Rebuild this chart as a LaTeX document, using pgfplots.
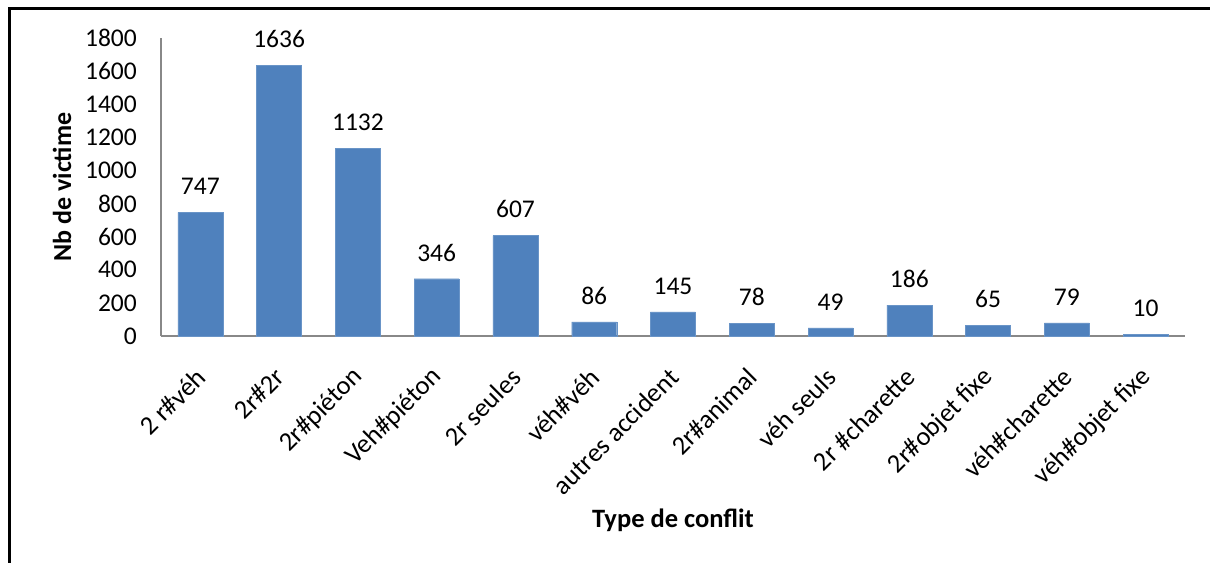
\documentclass[border=0pt]{standalone}
\usepackage{fontspec}
\setmainfont{Carlito}
\usepackage{pgfplots}
\pgfplotsset{compat=1.18}
\definecolor{barblue}{HTML}{4F81BD}
\definecolor{axisgray}{HTML}{888888}
\begin{document}
\begin{tikzpicture}
\useasboundingbox (-161bp,-227bp) rectangle (1049bp,336bp);
\draw[line width=3bp] (-151.5bp,-227bp) -- (-151.5bp,327.5bp) -- (1049bp,327.5bp);
\begin{axis}[
  at={(0,0)}, anchor=south west,
  scale only axis, width=1024bp, height=298bp,
  xmin=-0.5, xmax=12.5, ymin=0, ymax=1800,
  axis lines*=left,
  axis line style={axisgray, line width=1.3bp},
  ytick={0,200,...,1800},
  xtick=data,
  xticklabels={2 r\#véh, 2r\#2r, 2r\#piéton, Veh\#piéton, 2r seules, véh\#véh, autres accident, 2r\#animal, véh seuls, 2r \#charette, 2r\#objet fixe, véh\#charette, véh\#objet fixe},
  major tick length=0pt,
  /pgf/number format/assume math mode=true,
  /pgf/number format/1000 sep={},
  yticklabel style={font=\fontsize{25.5bp}{30bp}\selectfont, anchor=east, inner sep=0pt, xshift=-24bp},
  xticklabel style={font=\fontsize{26.5bp}{31bp}\selectfont, xshift=1bp, yshift=-37bp, rotate=45, anchor=east, inner sep=0pt},
  ylabel={\textbf{Nb de victime}},
  xlabel={\textbf{Type de conflit}},
  ylabel style={font=\fontsize{26bp}{30bp}\selectfont, at={(axis description cs:-0.0967,0.5)}, anchor=center},
  xlabel style={font=\fontsize{26.5bp}{30bp}\selectfont, at={(axis description cs:0.5,-0.617)}, anchor=center},
  clip=false,
  nodes near coords,
  every node near coord/.append style={font=\fontsize{25.5bp}{30bp}\selectfont, black, yshift=14bp},
]
\addplot[ybar, bar width=45bp, fill=barblue, draw=barblue!85!white] coordinates {
(0,747) (1,1636) (2,1132) (3,346) (4,607) (5,86) (6,145) (7,78) (8,49) (9,186) (10,65) (11,79) (12,10)
};
\end{axis}
\end{tikzpicture}
\end{document}
